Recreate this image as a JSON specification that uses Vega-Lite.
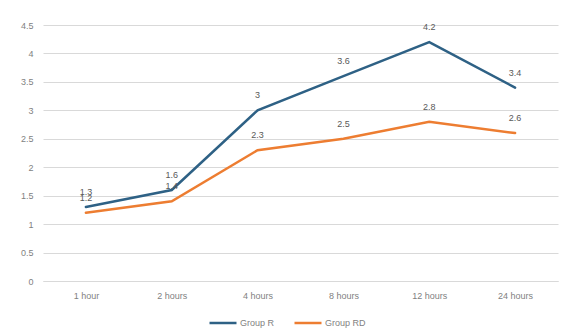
{
  "$schema": "https://vega.github.io/schema/vega-lite/v6.json",
  "autosize": "none",
  "width": 515,
  "height": 256,
  "padding": {"left": 43, "top": 25, "right": 9, "bottom": 55},
  "background": "white",
  "config": {
    "view": {"stroke": null},
    "font": "Liberation Sans",
    "axis": {
      "labelFont": "Liberation Sans",
      "labelFontSize": 9,
      "labelColor": "#7f7f7f",
      "ticks": false,
      "title": null
    }
  },
  "data": {
    "values": [
      {"time": "1 hour", "group": "Group R", "value": 1.3},
      {"time": "2 hours", "group": "Group R", "value": 1.6},
      {"time": "4 hours", "group": "Group R", "value": 3},
      {"time": "8 hours", "group": "Group R", "value": 3.6},
      {"time": "12 hours", "group": "Group R", "value": 4.2},
      {"time": "24 hours", "group": "Group R", "value": 3.4},
      {"time": "1 hour", "group": "Group RD", "value": 1.2},
      {"time": "2 hours", "group": "Group RD", "value": 1.4},
      {"time": "4 hours", "group": "Group RD", "value": 2.3},
      {"time": "8 hours", "group": "Group RD", "value": 2.5},
      {"time": "12 hours", "group": "Group RD", "value": 2.8},
      {"time": "24 hours", "group": "Group RD", "value": 2.6}
    ]
  },
  "encoding": {
    "x": {
      "field": "time",
      "type": "ordinal",
      "sort": ["1 hour", "2 hours", "4 hours", "8 hours", "12 hours", "24 hours"],
      "scale": {"paddingInner": 0, "paddingOuter": 0.5},
      "axis": {"labelAngle": 0, "labelPadding": 10, "domainColor": "#d9d9d9", "grid": false}
    },
    "y": {
      "field": "value",
      "type": "quantitative",
      "scale": {"domain": [0, 4.5], "nice": false},
      "axis": {
        "values": [0, 0.5, 1, 1.5, 2, 2.5, 3, 3.5, 4, 4.5],
        "format": "~g",
        "domain": false,
        "gridColor": "#d9d9d9",
        "gridWidth": 1,
        "labelPadding": 10
      }
    }
  },
  "layer": [
    {
      "mark": {"type": "line", "strokeWidth": 2.5, "strokeCap": "round", "strokeJoin": "miter"},
      "encoding": {
        "color": {
          "field": "group",
          "type": "nominal",
          "scale": {"domain": ["Group R", "Group RD"], "range": ["#2e6185", "#ed7d31"]},
          "legend": {
            "title": null,
            "orient": "none",
            "direction": "horizontal",
            "legendX": 165,
            "legendY": 283,
            "symbolType": "stroke",
            "symbolSize": 729,
            "symbolStrokeWidth": 2.5,
            "labelFontSize": 9,
            "labelColor": "#7f7f7f",
            "labelFont": "Liberation Sans",
            "labelOffset": 2,
            "columnPadding": 14
          }
        }
      }
    },
    {
      "mark": {"type": "text", "dy": -15, "fontSize": 9, "color": "#595959", "font": "Liberation Sans"},
      "encoding": {
        "text": {"field": "value", "type": "quantitative"}
      }
    }
  ]
}
